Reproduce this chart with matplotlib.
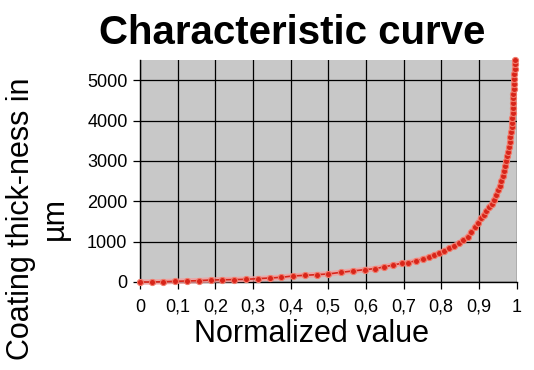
import matplotlib
matplotlib.use("Agg")
import matplotlib.pyplot as plt

plt.rcParams['font.family'] = ['Liberation Sans', 'DejaVu Sans']

title = "Characteristic curve"
x_label = "Normalized value"
y_label = "Coating thick-ness in\nµm"

x_ticks = [0, 0.1, 0.2, 0.3, 0.4, 0.5, 0.6, 0.7, 0.8, 0.9, 1.0]
x_tick_labels = ["0", "0,1", "0,2", "0,3", "0,4", "0,5", "0,6", "0,7", "0,8", "0,9", "1"]
y_ticks = [0, 1000, 2000, 3000, 4000, 5000]

norm_value = [
    0.000, 0.031, 0.062, 0.094, 0.125, 0.156, 0.188, 0.219, 0.250, 0.281,
    0.313, 0.344, 0.375, 0.406, 0.438, 0.469, 0.500, 0.534, 0.565, 0.597,
    0.624, 0.648, 0.673, 0.695, 0.713, 0.733, 0.751, 0.767, 0.782, 0.795,
    0.808, 0.821, 0.834, 0.846, 0.858, 0.870, 0.880, 0.889, 0.897, 0.905,
    0.913, 0.920, 0.927, 0.934, 0.940, 0.946, 0.951, 0.956, 0.960, 0.964,
    0.967, 0.970, 0.973, 0.976, 0.978, 0.980, 0.982, 0.984, 0.985, 0.987,
    0.988, 0.989, 0.990, 0.990, 0.991, 0.992, 0.992, 0.993, 0.993, 0.994,
    0.994, 0.995, 0.995, 0.996,
]
thickness_um = [
    0, 0, 8, 17, 25, 33, 50, 55, 60, 66,
    83, 99, 116, 149, 166, 182, 199, 240, 273, 306,
    331, 373, 422, 464, 480, 530, 571, 621, 671, 720,
    778, 836, 894, 960, 1035, 1126, 1240, 1360, 1470, 1580,
    1670, 1760, 1850, 1940, 2040, 2150, 2270, 2390, 2510, 2630,
    2750, 2870, 2990, 3110, 3230, 3350, 3470, 3590, 3710, 3830,
    3950, 4070, 4190, 4310, 4430, 4550, 4670, 4790, 4910, 5030,
    5150, 5270, 5390, 5490,
]

W, H = 534, 370
fig = plt.figure(figsize=(W / 100, H / 100), dpi=100)
ax = fig.add_axes([140 / W, 88 / H, 376.5 / W, 222 / H])
ax.set_facecolor('#c8c8c8')

ax.set_xlim(0, 1)
ax.set_ylim(0, 5500)
ax.set_xticks(x_ticks)
ax.set_xticklabels(x_tick_labels)
ax.set_yticks(y_ticks)
ax.grid(True, color='black', linewidth=0.9)
ax.set_axisbelow(True)

for s in ['top', 'right']:
    ax.spines[s].set_visible(False)
for s in ['left', 'bottom']:
    ax.spines[s].set_color('black')
    ax.spines[s].set_linewidth(1.0)

ax.tick_params(axis='both', direction='out', length=5, width=0.9, color='black',
               labelsize=13)
ax.tick_params(axis='x', pad=7)
ax.tick_params(axis='y', pad=4)

# halo + line with markers
ax.plot(norm_value, thickness_um, color='#f2a0a0', linewidth=4, alpha=0.8,
        solid_capstyle='round', zorder=3, clip_on=False)
ax.plot(norm_value, thickness_um, color='#d8251a', linewidth=1.2,
        marker='o', markersize=4.4, markerfacecolor='#d8251a',
        markeredgecolor='#f07a6a', markeredgewidth=0.8, zorder=4, clip_on=False)

fig.text(292 / W, 1 - 33 / H, title, ha='center', va='center',
         fontsize=29, fontweight='bold')
fig.text(311 / W, 1 - 342 / H, x_label, ha='center', va='baseline',
         fontsize=22)
fig.text(38 / W, 1 - 219 / H, y_label, ha='center', va='center',
         rotation=90, multialignment='center', fontsize=22, linespacing=1.15)

fig.savefig('out.png', dpi=100)
